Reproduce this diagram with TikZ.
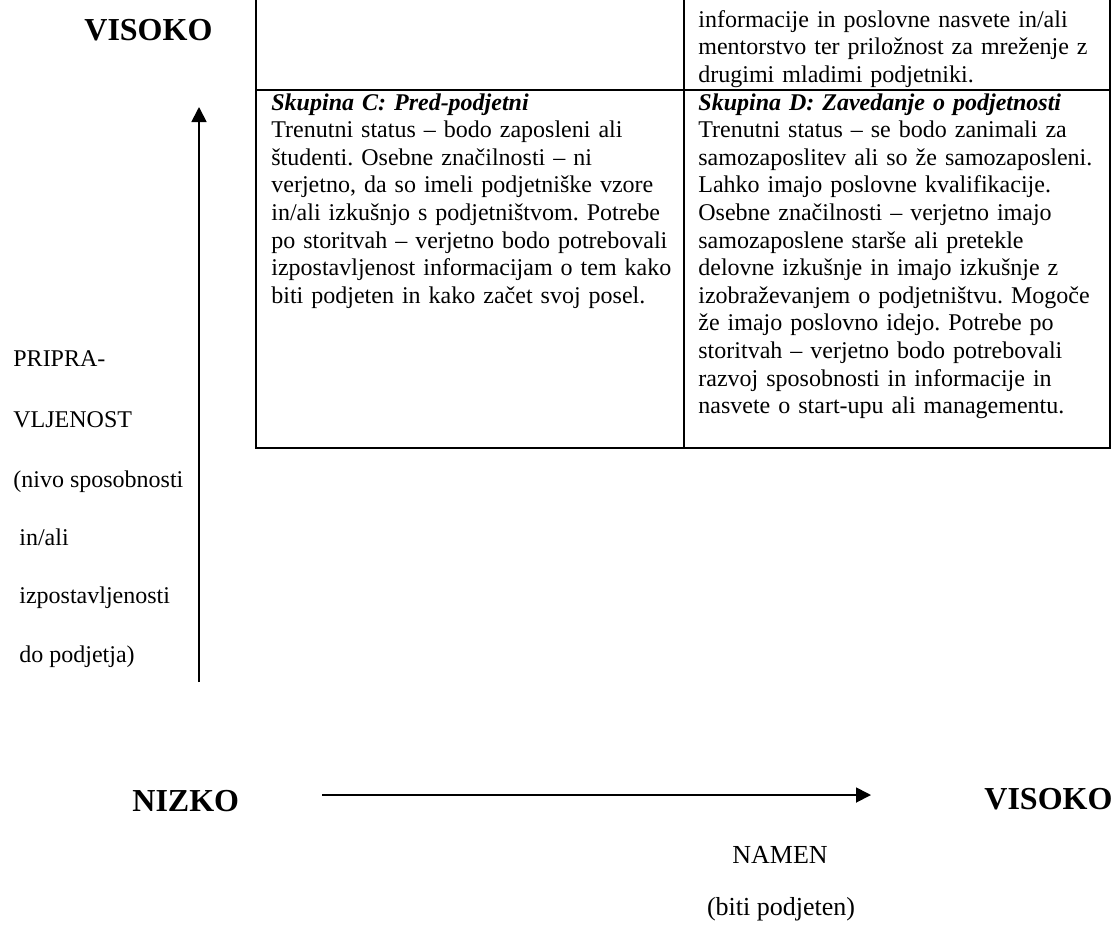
\documentclass[tikz,border=0pt]{standalone}
\usepackage{fontspec}
\setmainfont{Liberation Serif}
\usetikzlibrary{arrows.meta}
\frenchspacing
\tikzset{
  grid/.style={line width=1pt, line cap=rect},
  arr/.style={line width=0.9pt, -{Triangle[length=7.5pt,width=7.5pt]}},
  cell/.style={anchor=base west, inner sep=0pt, text width=210pt, align=left,
    font=\fontsize{12pt}{13.8pt}\selectfont},
  big/.style={anchor=base west, inner sep=0pt, font=\fontsize{16pt}{18pt}\selectfont\bfseries},
  lbl/.style={anchor=base west, inner sep=0pt, font=\fontsize{12pt}{14pt}\selectfont},
  lblb/.style={anchor=base west, inner sep=0pt, font=\fontsize{13pt}{15pt}\selectfont}
}
\begin{document}
\begin{tikzpicture}[x=0.5pt,y=-0.5pt]
\useasboundingbox (0,0) rectangle (1112,926);
% table
\coordinate (tl) at (256,0);
\coordinate (bl) at (256,448);
\coordinate (br) at (1110,448);
\coordinate (tr) at (1110,0);
\coordinate (mt) at (684,0);
\coordinate (mb) at (684,448);
\coordinate (ml) at (256,90);
\coordinate (mr) at (1110,90);
\draw[grid] (tl) -- (bl) -- (br) -- (tr);
\draw[grid] (mt) -- (mb);
\draw[grid] (ml) -- (mr);
% top-right cell (partly visible)
\node[cell] (cellB) at (698,27) {informacije in poslovne nasvete in/ali\\
mentorstvo ter priložnost za mreženje z\\
drugimi mladimi podjetniki.};
% cell C
\node[cell] (cellC) at (271,110) {{\bfseries\itshape Skupina C: Pred-podjetni}\\
Trenutni status – bodo zaposleni ali\\
študenti. Osebne značilnosti – ni\\
verjetno, da so imeli podjetniške vzore\\
in/ali izkušnjo s podjetništvom. Potrebe\\
po storitvah – verjetno bodo potrebovali\\
izpostavljenost informacijam o tem kako\\
biti podjeten in kako začet svoj posel.};
% cell D
\node[cell] (cellD) at (698,110) {{\bfseries\itshape Skupina D: Zavedanje o podjetnosti}\\
Trenutni status – se bodo zanimali za\\
samozaposlitev ali so že samozaposleni.\\
Lahko imajo poslovne kvalifikacije.\\
Osebne značilnosti – verjetno imajo\\
samozaposlene starše ali pretekle\\
delovne izkušnje in imajo izkušnje z\\
izobraževanjem o podjetništvu. Mogoče\\
že imajo poslovno idejo. Potrebe po\\
storitvah – verjetno bodo potrebovali\\
razvoj sposobnosti in informacije in\\
nasvete o start-upu ali managementu.};
% axis labels
\node[big] (visokoY) at (84,40) {VISOKO};
\node[big] (nizko) at (132,811) {NIZKO};
\node[big] (visokoX) at (984,809) {VISOKO};
\node[lbl] (l1) at (13,366) {PRIPRA-};
\node[lbl] (l2) at (13,427) {VLJENOST};
\node[lbl] (l3) at (13,487) {(nivo sposobnosti};
\node[lbl] (l4) at (19,545) {in/ali};
\node[lbl] (l5) at (19,603) {izpostavljenosti};
\node[lbl] (l6) at (19,662) {do podjetja)};
\node[lblb,anchor=base] (namen) at (780,863) {NAMEN};
\node[lblb,anchor=base] (biti) at (781,915) {(biti podjeten)};
% arrows
\coordinate (vbot) at (199,682);
\coordinate (vtop) at (199,107);
\coordinate (hl) at (322,795);
\coordinate (hr) at (871,795);
\draw[arr] (vbot) -- (vtop);
\draw[arr] (hl) -- (hr);
\end{tikzpicture}
\end{document}
